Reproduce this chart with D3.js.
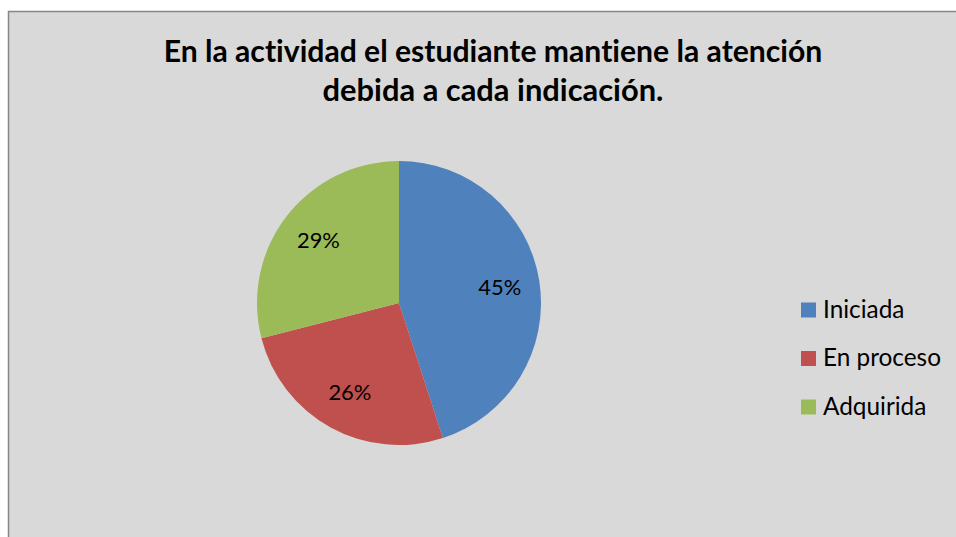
<!DOCTYPE html>
<html>
<head>
<meta charset="utf-8">
<script src="https://cdn.jsdelivr.net/npm/d3@7"></script>
<style>
  body { margin: 0; background: #fff; }
  svg { display: block; }
  text { font-variant-ligatures: none; }
</style>
</head>
<body>
<div class="pieChart"></div>
<script>
// datos
const categories = ["Iniciada", "En proceso", "Adquirida"];
const values = [45, 26, 29];
const colors = ["#4f81bd", "#c0504d", "#9bbb59"];
const titleLines = ["En la actividad el estudiante mantiene la atención", "debida a cada indicación."];

const W = 956, H = 537;
const font = "Lato, 'Open Sans', sans-serif";

const svg = d3.select(".pieChart").append("svg")
    .attr("width", W)
    .attr("height", H);

// fondo del area del grafico
svg.append("rect")
    .attr("x", 8.5).attr("y", 11.5)
    .attr("width", W + 10).attr("height", H + 10)
    .attr("fill", "#d9d9d9")
    .attr("stroke", "#868686")
    .attr("stroke-width", 1.5);

// ajusta el tamaño de letra para que el texto mida lo que mide en la imagen
function fitText(t, target) {
    let fs = parseFloat(t.attr("font-size"));
    let w = t.node().getComputedTextLength();
    if (w > 0) t.attr("font-size", fs * target / w);
    return parseFloat(t.attr("font-size"));
}

const titleWidths = [659, 341];
const titleBase = [61.5, 100.5];
titleLines.forEach((line, i) => {
    let t = svg.append("text")
        .attr("x", 493)
        .attr("y", titleBase[i])
        .attr("text-anchor", "middle")
        .attr("font-family", font)
        .attr("font-weight", "bold")
        .attr("font-size", 27)
        .attr("fill", "#000")
        .text(line);
    fitText(t, titleWidths[i]);
});

// pastel
const cx = 399, cy = 303, R = 142;
const pie = d3.pie().sort(null).value(d => d)(values);
const arc = d3.arc().innerRadius(0).outerRadius(R);
const labelArc = d3.arc().innerRadius(102).outerRadius(102);

const g = svg.append("g").attr("transform", `translate(${cx},${cy})`);
g.selectAll("path.slice")
    .data(pie)
    .join("path")
    .attr("class", "slice")
    .attr("d", arc)
    .attr("fill", (d, i) => colors[i]);

const total = d3.sum(values);
const labels = g.selectAll("text.lbl")
    .data(pie)
    .join("text")
    .attr("class", "lbl")
    .attr("transform", d => {
        let c = labelArc.centroid(d);
        return `translate(${c[0]},${c[1]})`;
    })
    .attr("text-anchor", "middle")
    .attr("dy", "0.36em")
    .attr("font-family", font)
    .attr("font-size", 21)
    .attr("fill", "#000")
    .text(d => Math.round(d.value / total * 100) + "%");
let lblSize = fitText(d3.select(labels.nodes()[0]), 43);
labels.attr("font-size", lblSize);

// leyenda
const ly = d3.scalePoint().domain(categories).range([310, 407]);
const legend = svg.append("g");
let legTexts = [];
categories.forEach((c, i) => {
    legend.append("rect")
        .attr("x", 801)
        .attr("y", ly(c) - 7.5)
        .attr("width", 15).attr("height", 15)
        .attr("fill", colors[i]);
    legTexts.push(legend.append("text")
        .attr("x", 823)
        .attr("y", ly(c) + 7.5)
        .attr("font-family", font)
        .attr("font-size", 22)
        .attr("fill", "#000")
        .text(c));
});
let legSize = fitText(legTexts[1], 118);
legTexts.forEach(t => t.attr("font-size", legSize));
</script>
</body>
</html>
